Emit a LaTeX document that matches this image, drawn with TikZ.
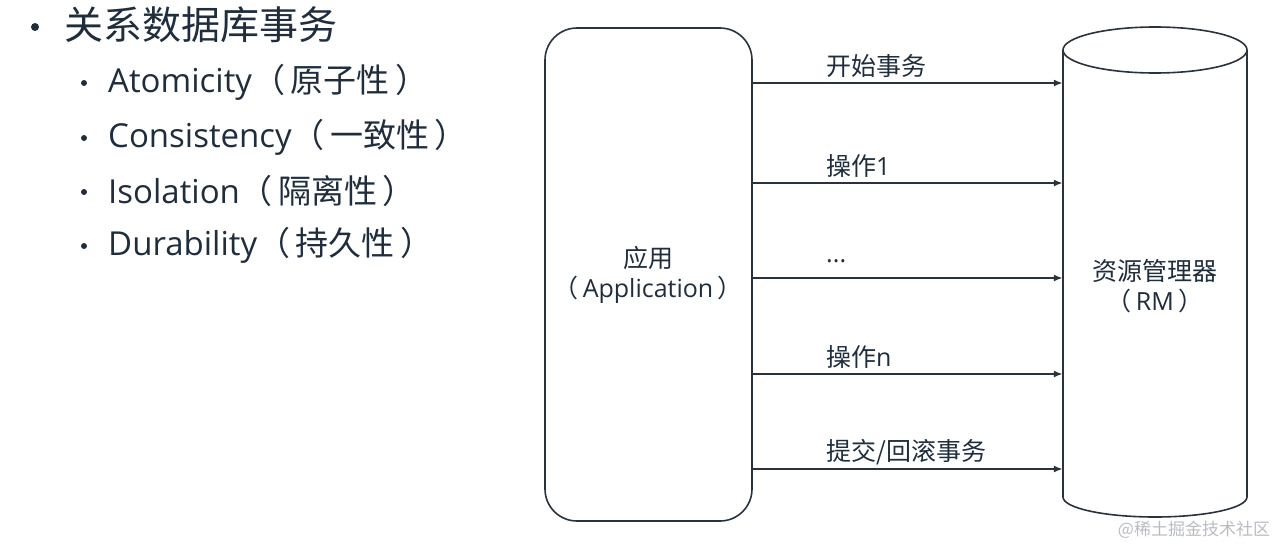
\documentclass[tikz,border=0pt]{standalone}
\usepackage{fontspec}
\setmainfont{Open Sans}
\newfontfamily\cjk{Noto Sans CJK SC}
\usetikzlibrary{arrows.meta}
\definecolor{ink}{HTML}{1F2D3D}
\definecolor{linec}{HTML}{2A323C}
\definecolor{wm}{HTML}{B8BCC2}
\tikzset{
  box/.style={draw=linec,line width=1.6pt,rounded corners=32pt,minimum width=207pt,minimum height=493pt,inner sep=0pt},
  flow/.style={draw=linec,line width=1.8pt,-{Latex[length=9pt,width=7pt]}},
  lbl/.style={anchor=west,text=ink,inner sep=0pt,font=\fontsize{25}{28}\selectfont},
  mid/.style={text=ink,align=center,inner sep=0pt,font=\fontsize{25}{30}\selectfont},
  head/.style={anchor=west,text=ink,inner sep=0pt,font=\fontsize{39}{44}\selectfont},
  item/.style={anchor=west,text=ink,inner sep=0pt,font=\fontsize{33}{38}\selectfont},
  dot/.style={circle,fill=ink,inner sep=0pt},
}
\begin{document}
\begin{tikzpicture}[x=1pt,y=-1pt]
\useasboundingbox (0,0) rectangle (1280,546);
% bullet list
\node[dot,minimum size=8pt] (b0) at (35,27) {};
\node[head] (h0) at (64,25) {\cjk 关系数据库事务};
\node[dot,minimum size=6pt] (b1) at (84,83) {};
\node[item] (h1) at (108,82) {Atomicity{\cjk（}\,{\cjk 原子性}\,{\cjk）}};
\node[dot,minimum size=6pt] (b2) at (84,138) {};
\node[item] (h2) at (108,137) {Consistency{\cjk（}\,{\cjk 一致性}\,{\cjk）}};
\node[dot,minimum size=6pt] (b3) at (84,192) {};
\node[item] (h3) at (108,191) {Isolation{\cjk（}\,{\cjk 隔离性}\,{\cjk）}};
\node[dot,minimum size=6pt] (b4) at (84,246) {};
\node[item] (h4) at (108,245) {Durability{\cjk（}\,{\cjk 持久性}\,{\cjk）}};
% application box
\node[box] (app) at (648.5,274.5) {};
\node[mid] (apptxt) at (648,275) {{\cjk 应用}\\{\cjk（}\,Application\,{\cjk）}};
% resource manager cylinder
\node[minimum width=184pt,minimum height=490pt,inner sep=0pt] (rm) at (1155,272) {};
\draw[linec,line width=1.6pt,fill=white]
  (1063,50) -- (1063,497) arc[start angle=180,end angle=0,x radius=92,y radius=20]
  -- (1247,50) arc[start angle=0,end angle=-180,x radius=92,y radius=23];
\draw[linec,line width=1.6pt] (1063,50) arc[start angle=180,end angle=0,x radius=92,y radius=23];
\node[mid] (rmtxt) at (1155,286) {{\cjk 资源管理器}\\{\cjk（}\,RM\,{\cjk）}};
% arrows
\foreach \y/\t/\n in {83/{\cjk 开始事务}/a1,183/{\cjk 操作}1/a2,278/{...}/a3,374/{\cjk 操作}n/a4,469/{\cjk 提交/回滚事务}/a5}{
  \coordinate (s\n) at (app.east |- 0,\y);
  \coordinate (e\n) at (rm.west |- 0,\y);
  \draw[flow] (s\n) -- (e\n);
  \node[lbl] (l\n) at (826,\y-17) {\t};
}
% watermark
\node[text=wm,inner sep=0pt,font=\cjk\fontsize{17}{20}\selectfont] (wmk) at (1194,530) {@稀土掘金技术社区};
\end{tikzpicture}
\end{document}
